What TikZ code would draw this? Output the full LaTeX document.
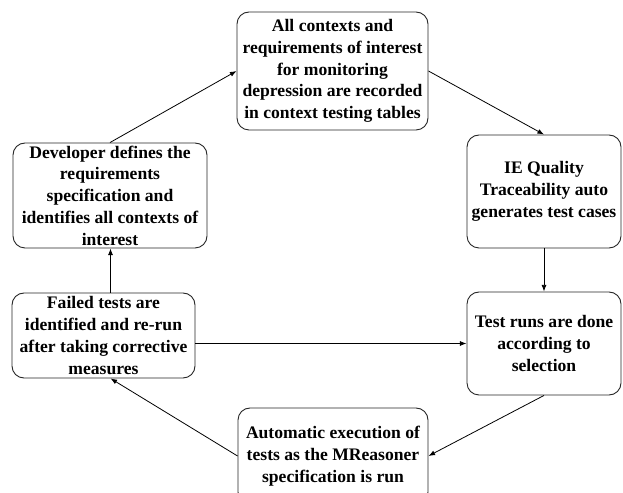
\documentclass[tikz,border=0pt]{standalone}
\usepackage{fontspec}
\setmainfont{Liberation Serif}
\usetikzlibrary{arrows.meta,positioning,calc}

\begin{document}
\begin{tikzpicture}[x=1pt,y=1pt,>=Latex,
  box/.style={draw=black!85,line width=0.9pt,rounded corners=12pt,align=center,
    font=\fontsize{17.6}{21.8}\selectfont\bfseries,inner sep=1pt},
  arr/.style={->,line width=0.8pt}]
  \useasboundingbox (0,0) rectangle (623,492);
  \node[box,minimum width=191,minimum height=118] (rec) at (332.5,421)
    {All contexts and\\requirements of interest\\for monitoring\\depression are recorded\\in context testing tables};
  \node[box,minimum width=194,minimum height=105] (dev) at (110,296.5)
    {Developer defines the\\requirements\\specification and\\identifies all contexts of\\interest};
  \node[box,minimum width=154,minimum height=113] (gen) at (544,300.5)
    {IE Quality\\Traceability auto\\generates test cases};
  \node[box,minimum width=183,minimum height=85] (fail) at (103.5,156.5)
    {Failed tests are\\identified and re-run\\after taking corrective\\measures};
  \node[box,minimum width=154,minimum height=103] (runs) at (544,148.5)
    {Test runs are done\\according to\\selection};
  \node[box,minimum width=190,minimum height=96] (exec) at (333,36)
    {Automatic execution of\\tests as the MReasoner\\specification is run};
  % cycle
  \draw[arr] (dev.north) -- (rec.west);
  \draw[arr] (rec.east) -- (gen.north);
  \draw[arr] (gen.south) -- (runs.north);
  \draw[arr] (runs.south) -- (exec.east);
  \draw[arr] (exec.west) -- ([xshift=7pt]fail.south);
  \draw[arr] ([xshift=7pt]fail.north) -- ([xshift=7pt]fail.north |- dev.south);
  \draw[arr] (fail.east |- runs.west) -- (runs.west);
\end{tikzpicture}
\end{document}
